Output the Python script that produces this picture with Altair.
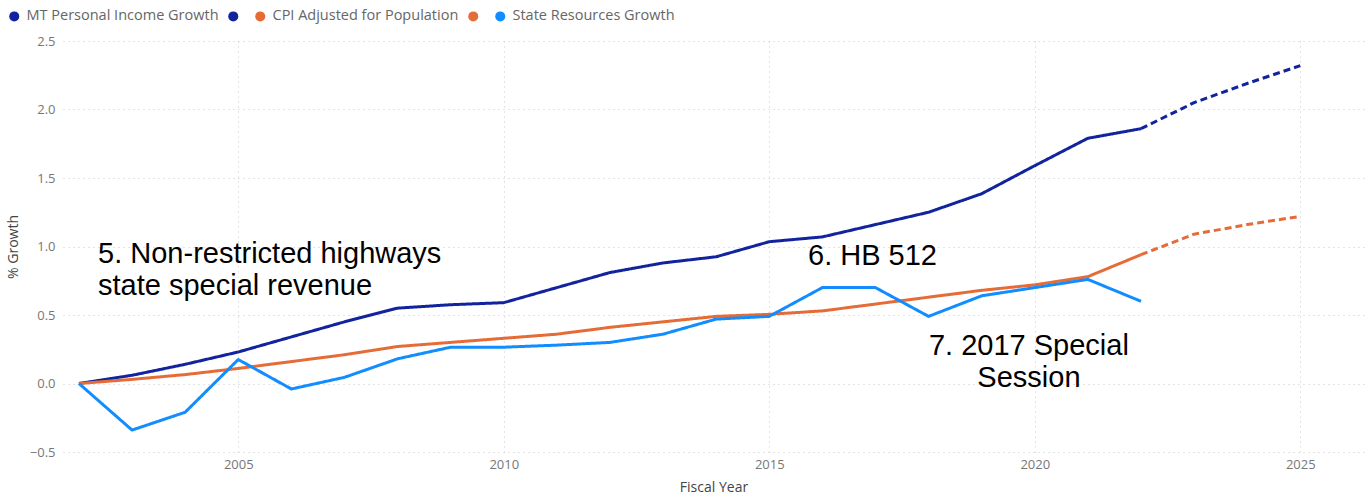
import altair as alt
import pandas as pd

# ---- data ----
years = list(range(2002, 2023))
income = [0.0, 0.06, 0.14, 0.23, 0.34, 0.45, 0.55, 0.575, 0.59, 0.70, 0.81,
          0.88, 0.925, 1.035, 1.07, 1.16, 1.25, 1.385, 1.59, 1.79, 1.86]
cpi = [0.0, 0.03, 0.065, 0.11, 0.16, 0.21, 0.27, 0.30, 0.33, 0.36, 0.41,
       0.45, 0.49, 0.505, 0.53, 0.58, 0.63, 0.68, 0.72, 0.78, 0.94]
state = [0.0, -0.34, -0.21, 0.175, -0.04, 0.045, 0.18, 0.265, 0.265, 0.28, 0.30,
         0.36, 0.47, 0.49, 0.70, 0.70, 0.49, 0.64, 0.70, 0.76, 0.60]

forecast_years = [2022, 2023, 2024, 2025]
income_forecast = [1.86, 2.05, 2.19, 2.32]
cpi_forecast = [0.94, 1.09, 1.16, 1.22]

series_names = ["MT Personal Income Growth", "MT Forecast",
                "CPI Adjusted for Population", "CPI Forecast",
                "State Resources Growth"]
series_colors = ["#12239E", "#12239E", "#E66C37", "#E66C37", "#118DFF"]
series_dash = [[1, 0], [7, 4], [1, 0], [7, 4], [1, 0]]

y_ticks = [-0.5, 0.0, 0.5, 1.0, 1.5, 2.0, 2.5]
x_ticks = [2005, 2010, 2015, 2020, 2025]

ann_left_text = ["5. Non-restricted highways\nstate special revenue", "6. HB 512"]
ann_left_x = [2002.36, 2015.73]
ann_left_y = [0.882, 0.867]
ann_center_text = ["7. 2017 Special\nSession"]
ann_center_x = [2019.89]
ann_center_y = [0.211]

# ---- build table ----
rows = []
for name, xs, ys in [
    (series_names[0], years, income),
    (series_names[1], forecast_years, income_forecast),
    (series_names[2], years, cpi),
    (series_names[3], forecast_years, cpi_forecast),
    (series_names[4], years, state),
]:
    for x, y in zip(xs, ys):
        rows.append({"series": name, "year": x, "value": y})
df = pd.DataFrame(rows)

ann_left = pd.DataFrame({"text": ann_left_text, "x": ann_left_x, "y": ann_left_y})
ann_center = pd.DataFrame({"text": ann_center_text, "x": ann_center_x, "y": ann_center_y})

grid_color = "#C8C8C8"

x_scale = alt.Scale(domain=[2001.7, 2026.2], nice=False, zero=False)
y_scale = alt.Scale(domain=[-0.5, 2.5], nice=False, zero=False)

x_axis = alt.Axis(values=x_ticks, format="d", title="Fiscal Year",
                  grid=True, gridDash=[1, 4], gridColor=grid_color,
                  domain=False, ticks=False, labelPadding=6,
                  titlePadding=9)
y_axis = alt.Axis(values=y_ticks, format=".1f", title="% Growth",
                  grid=True, gridDash=[1, 4], gridColor=grid_color,
                  domain=False, ticks=False, labelPadding=8, titlePadding=9)

legend = alt.Legend(
    title=None, orient="none", legendX=-56, legendY=-32,
    direction="horizontal", symbolType="circle", symbolSize=100,
    symbolStrokeWidth=0, symbolOpacity=1,
    labelExpr="indexof(datum.label, 'Forecast') >= 0 ? '' : datum.label",
    labelFont="Open Sans", labelFontSize=14.5, labelColor="#666666", labelLimit=400,
    labelOffset=5, columnPadding=7, padding=0)

# invisible filled points carry the circle legend
legend_layer = alt.Chart(df).mark_point(filled=True, size=100, opacity=0).encode(
    x=alt.X("year:Q", scale=x_scale, axis=x_axis),
    y=alt.Y("value:Q", scale=y_scale, axis=y_axis),
    color=alt.Color("series:N",
                    scale=alt.Scale(domain=series_names, range=series_colors),
                    sort=series_names, legend=legend),
)

lines = alt.Chart(df).mark_line(strokeWidth=3, strokeCap="butt", strokeJoin="round").encode(
    x=alt.X("year:Q", scale=x_scale, axis=x_axis),
    y=alt.Y("value:Q", scale=y_scale, axis=y_axis),
    color=alt.Color("series:N",
                    scale=alt.Scale(domain=series_names, range=series_colors),
                    sort=series_names, legend=legend),
    strokeDash=alt.StrokeDash("series:N",
                              scale=alt.Scale(domain=series_names, range=series_dash),
                              legend=None),
    detail="series:N",
)

text_left = alt.Chart(ann_left).mark_text(
    align="left", baseline="alphabetic", lineBreak="\n", lineHeight=32,
    font="Liberation Sans", fontSize=29, color="#000000"
).encode(x=alt.X("x:Q", scale=x_scale, axis=x_axis),
         y=alt.Y("y:Q", scale=y_scale, axis=y_axis), text="text:N")

text_center = alt.Chart(ann_center).mark_text(
    align="center", baseline="alphabetic", lineBreak="\n", lineHeight=32,
    font="Liberation Sans", fontSize=29, color="#000000"
).encode(x=alt.X("x:Q", scale=x_scale, axis=x_axis),
         y=alt.Y("y:Q", scale=y_scale, axis=y_axis), text="text:N")

chart = alt.layer(legend_layer, lines, text_left, text_center).properties(
    width=1301, height=411,
    autosize=alt.AutoSizeParams(type="none"),
    padding={"left": 63, "top": 41, "right": 8, "bottom": 46},
    background="white",
).configure_view(stroke=None).configure_axis(
    labelFont="Open Sans", labelFontSize=13, labelColor="#777777",
    titleFont="Open Sans", titleFontSize=14, titleFontWeight="normal",
    titleColor="#444444",
)

chart.save("out.html", embed_options={"renderer": "svg", "actions": False})
